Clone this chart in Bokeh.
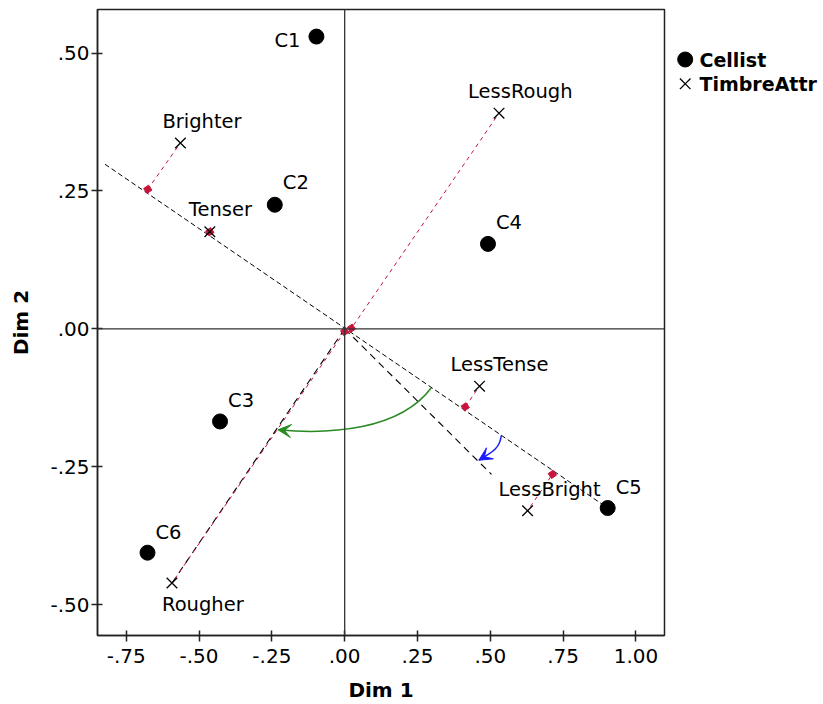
from bokeh.plotting import figure
from bokeh.models import ColumnDataSource, Span, FixedTicker, Arrow, VeeHead, Range1d
from bokeh.layouts import row
from bokeh.core.properties import value
from bokeh.embed import file_html
from bokeh.resources import INLINE

# ---------------- data ----------------
cellist_names = ["C1", "C2", "C3", "C4", "C5", "C6"]
cellist_x = [-0.097, -0.240, -0.428, 0.492, 0.903, -0.677]
cellist_y = [0.530, 0.225, -0.168, 0.154, -0.325, -0.406]

attr_names = ["Brighter", "Tenser", "LessRough", "LessTense", "LessBright", "Rougher"]
attr_x = [-0.564, -0.463, 0.530, 0.463, 0.628, -0.593]
attr_y = [0.337, 0.176, 0.391, -0.104, -0.330, -0.461]

# projections of the attributes onto the C5 direction
proj_x = [-0.676, -0.463, 0.023, 0.414, 0.713, 0.000]
proj_y = [0.253, 0.176, 0.001, -0.1415, -0.264, -0.005]

# main (C5) direction line
main_dir_x = [-0.823, 0.903]
main_dir_y = [0.2985, -0.325]
# rotated direction lines from the origin (towards LessBright and Rougher)
rot_dir_x = [0.504, -0.593]
rot_dir_y = [-0.264, -0.461]

# rotation arrows (cubic curves): green = to Rougher, blue = to LessBright
arc_x0 = [0.2975, 0.5378]
arc_y0 = [-0.107, -0.1935]
arc_cx0 = [0.1887, 0.5319]
arc_cy0 = [-0.1844, -0.2189]
arc_cx1 = [-0.0515, 0.5021]
arc_cy1 = [-0.1917, -0.2247]
arc_x1 = [-0.2289, 0.4609]
arc_y1 = [-0.1832, -0.2383]
arc_colors = ["#2a8a22", "#1a1aff"]

x_ticks = [-0.75, -0.5, -0.25, 0.0, 0.25, 0.5, 0.75, 1.0]
x_tick_labels = ["-.75", "-.50", "-.25", ".00", ".25", ".50", ".75", "1.00"]
y_ticks = [-0.5, -0.25, 0.0, 0.25, 0.5]
y_tick_labels = ["-.50", "-.25", ".00", ".25", ".50"]

legend_labels = ["Cellist", "TimbreAttr"]
legend_markers = ["circle", "x"]

# ---------------- styles ----------------
FONT = "DejaVu Sans"
RED = "#c8143c"
cell_label_dx = [-42, 8, 8, 8, 8, 8]
cell_label_dy = [3.5, -22.3, -21, -21.6, -21, -20.6]
attr_label_dx = [-18, -21, -31, -29, -29, -10]
attr_label_dy = [-21.6, -22, -21.7, -21.7, -21, 21.7]

H = 704
B_TOP, B_BOTTOM = 9, 69
FRAME_H = H - B_TOP - B_BOTTOM

p = figure(width=666, height=H, x_range=(-0.8487, 1.0981), y_range=(-0.5562, 0.5791),
           output_backend="svg", toolbar_location=None, title=None,
           min_border_left=97, min_border_right=2, min_border_top=B_TOP, min_border_bottom=B_BOTTOM)
p.grid.visible = False
p.outline_line_color = "#222222"
p.outline_line_width = 1.5

for ax, ticks, labels in ((p.xaxis[0], x_ticks, x_tick_labels), (p.yaxis[0], y_ticks, y_tick_labels)):
    ax.ticker = FixedTicker(ticks=ticks, minor_ticks=[])
    ax.major_label_overrides = {t: l for t, l in zip(ticks, labels)}
    ax.axis_line_color = "#222222"
    ax.axis_line_width = 1.5
    ax.major_tick_line_color = "#222222"
    ax.major_tick_line_width = 1.5
    ax.major_tick_in = 5
    ax.major_tick_out = 6
    ax.minor_tick_line_color = None
    ax.major_label_text_font = FONT
    ax.major_label_text_font_size = "20px"
    ax.major_label_text_color = "black"
    ax.axis_label_text_font = FONT
    ax.axis_label_text_font_size = "20px"
    ax.axis_label_text_font_style = "bold"
    ax.axis_label_text_color = "black"

p.xaxis.axis_label = "Dim 1"
p.yaxis.axis_label = "Dim 2"
p.xaxis.major_label_standoff = 7
p.yaxis.major_label_standoff = 2
p.xaxis.axis_label_standoff = 12
p.yaxis.axis_label_standoff = 14

p.add_layout(Span(location=0, dimension="width", line_color="#333333", line_width=1.3))
p.add_layout(Span(location=0, dimension="height", line_color="#333333", line_width=1.3))

# black dashed direction lines
p.line(main_dir_x, main_dir_y, line_color="black", line_width=1, line_dash="5 3")
p.segment(x0=[0.0] * len(rot_dir_x), y0=[0.0] * len(rot_dir_y), x1=rot_dir_x, y1=rot_dir_y,
          line_color="black", line_width=1.1, line_dash="7 5")

# red projection lines + projection points
p.segment(x0=attr_x, y0=attr_y, x1=proj_x, y1=proj_y, line_color=RED, line_width=1,
          line_dash="4 4", line_dash_offset=3)
p.scatter(proj_x, proj_y, marker="square", size=6, angle=0.6, fill_color=RED, line_color=RED)

# rotation arrows
arc_src = ColumnDataSource(dict(x0=arc_x0, y0=arc_y0, cx0=arc_cx0, cy0=arc_cy0,
                                cx1=arc_cx1, cy1=arc_cy1, x1=arc_x1, y1=arc_y1, c=arc_colors))
p.bezier(x0="x0", y0="y0", x1="x1", y1="y1", cx0="cx0", cy0="cy0", cx1="cx1", cy1="cy1",
         line_color="c", line_width=1.5, source=arc_src)
for i in range(len(arc_x0)):
    p.add_layout(Arrow(end=VeeHead(size=13, fill_color=arc_colors[i], line_color=arc_colors[i]),
                       x_start=arc_cx1[i], y_start=arc_cy1[i], x_end=arc_x1[i], y_end=arc_y1[i],
                       line_alpha=0))

# markers
p.scatter(attr_x, attr_y, marker="x", size=15, line_color="black", line_width=1.3)
p.scatter(cellist_x, cellist_y, marker="circle", size=15, fill_color="black", line_color="black")

# labels
lab_src = ColumnDataSource(dict(x=cellist_x + attr_x, y=cellist_y + attr_y,
                                t=cellist_names + attr_names,
                                dx=cell_label_dx + attr_label_dx,
                                dy=cell_label_dy + attr_label_dy))
p.text(x="x", y="y", text="t", x_offset="dx", y_offset="dy", source=lab_src,
       text_font=value(FONT), text_font_size="19.5px", text_color="black",
       text_align="left", text_baseline="middle")

# legend panel (its frame is aligned with the main frame; y in px from frame top)
lf = figure(width=156, height=H, x_range=Range1d(0, 156), y_range=Range1d(FRAME_H, 0),
            output_backend="svg", toolbar_location=None, title=None,
            x_axis_location=None, y_axis_location=None,
            min_border_left=0, min_border_right=0, min_border_top=B_TOP, min_border_bottom=B_BOTTOM)
lf.grid.visible = False
lf.outline_line_color = None
leg_y = [50 + 24.3 * i for i in range(len(legend_labels))]
lf.scatter([18.7], [leg_y[0]], marker=legend_markers[0], size=15, fill_color="black", line_color="black")
lf.scatter([18.7], [leg_y[1]], marker=legend_markers[1], size=15, line_color="black", line_width=1.3)
lf.text(x=[33] * len(legend_labels), y=leg_y, text=legend_labels,
        text_font=value(FONT), text_font_size="19px", text_font_style="bold",
        text_color="black", text_align="left", text_baseline="middle")

layout = row(p, lf)
open("out.html", "w").write(file_html(layout, INLINE))
